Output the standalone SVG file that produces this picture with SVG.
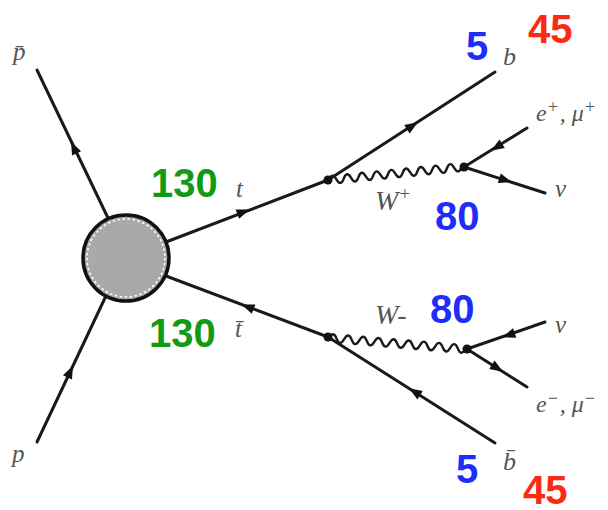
<svg xmlns="http://www.w3.org/2000/svg" xmlns:xlink="http://www.w3.org/1999/xlink" width="608" height="510" viewBox="0 0 608 510">
<style>
.ln{stroke:#1a1a1a;stroke-width:3;fill:none;stroke-linecap:round}
.wv{stroke:#1a1a1a;stroke-width:2.4;fill:none}
.dot{fill:#111}
.ah{fill:#111}
.lbl{font-family:"Liberation Serif","DejaVu Serif",serif;font-style:italic;fill:#555}
.num{font-family:"Liberation Sans",Arial,sans-serif;font-weight:bold;font-size:40px}
.g{fill:#139a13}
.b{fill:#1e2dfa}
.r{fill:#fa2a14}
</style>
<defs>
<path id="arr" d="M7,0 L-6,-5 L-6,5 Z"/>
</defs>
<rect width="608" height="510" fill="#fff"/>

<g id="connectors">
<line class="ln" x1="108" y1="218" x2="37" y2="70"/>
<line class="ln" x1="105" y1="298" x2="37" y2="442"/>
<line class="ln" x1="166" y1="242" x2="328" y2="180"/>
<line class="ln" x1="166" y1="276" x2="328" y2="337"/>
<line class="ln" x1="328" y1="180" x2="495" y2="72"/>
<line class="ln" x1="464" y1="167" x2="527" y2="128"/>
<line class="ln" x1="464" y1="167" x2="545" y2="193"/>
<line class="ln" x1="328" y1="337" x2="495" y2="443"/>
<line class="ln" x1="467" y1="349" x2="545" y2="322"/>
<line class="ln" x1="467" y1="349" x2="527" y2="387"/>
<path class="wv" transform="translate(329,180) rotate(-5.58)" d="M0,0 q3.7,-8 7.4,0 q3.7,8 7.4,0 q3.7,-8 7.4,0 q3.7,8 7.4,0 q3.7,-8 7.4,0 q3.7,8 7.4,0 q3.7,-8 7.4,0 q3.7,8 7.4,0 q3.7,-8 7.4,0 q3.7,8 7.4,0 q3.7,-8 7.4,0 q3.7,8 7.4,0 q3.7,-8 7.4,0 q3.7,8 7.4,0 q3.7,-8 7.4,0 q3.7,8 7.4,0 q3.7,-8 7.4,0 q3.7,8 7.4,0"/>
<path class="wv" transform="translate(329,338) rotate(4.62)" d="M0,0 q3.8,-8 7.6,0 q3.8,8 7.6,0 q3.8,-8 7.6,0 q3.8,8 7.6,0 q3.8,-8 7.6,0 q3.8,8 7.6,0 q3.8,-8 7.6,0 q3.8,8 7.6,0 q3.8,-8 7.6,0 q3.8,8 7.6,0 q3.8,-8 7.6,0 q3.8,8 7.6,0 q3.8,-8 7.6,0 q3.8,8 7.6,0 q3.8,-8 7.6,0 q3.8,8 7.6,0 q3.8,-8 7.6,0 q3.8,8 7.6,0"/>
<use class="ah" xlink:href="#arr" href="#arr" transform="translate(74,148) rotate(-115.6)"/>
<use class="ah" xlink:href="#arr" href="#arr" transform="translate(70,372) rotate(-64.7)"/>
<use class="ah" xlink:href="#arr" href="#arr" transform="translate(243,212) rotate(-20.9)"/>
<use class="ah" xlink:href="#arr" href="#arr" transform="translate(248,307) rotate(200.6)"/>
<use class="ah" xlink:href="#arr" href="#arr" transform="translate(412,126) rotate(-32.9)"/>
<use class="ah" xlink:href="#arr" href="#arr" transform="translate(497,147) rotate(148.2)"/>
<use class="ah" xlink:href="#arr" href="#arr" transform="translate(505,180) rotate(17.8)"/>
<use class="ah" xlink:href="#arr" href="#arr" transform="translate(415,392) rotate(212.4)"/>
<use class="ah" xlink:href="#arr" href="#arr" transform="translate(509,335) rotate(160.9)"/>
<use class="ah" xlink:href="#arr" href="#arr" transform="translate(497,368) rotate(32.3)"/>
<circle class="dot" cx="328" cy="180" r="4.5"/>
<circle class="dot" cx="464" cy="167" r="4.5"/>
<circle class="dot" cx="328" cy="337" r="4.5"/>
<circle class="dot" cx="467" cy="349" r="4.5"/>
</g>

<g id="blob">
<circle cx="126" cy="258" r="43" fill="#a9a9a9" stroke="#111" stroke-width="3.5"/>
<circle cx="126" cy="258" r="39" fill="none" stroke="#fff" stroke-width="1.6" stroke-dasharray="2.5,2.5"/>
</g>

<g id="pbar"><text class="lbl" x="13" y="60" font-size="25">p̄</text></g>
<g id="p"><text class="lbl" x="12" y="462" font-size="25">p</text></g>
<g id="t"><text class="lbl" x="236" y="197" font-size="25">t</text><text class="num g" x="151" y="197">130</text></g>
<g id="tbar"><text class="lbl" x="235" y="337" font-size="25">t̄</text><text class="num g" x="149" y="347">130</text></g>
<g id="b"><text class="lbl" x="503" y="65" font-size="26">b</text><text class="num b" x="466" y="60">5</text><text class="num r" x="528" y="43">45</text></g>
<g id="Wplus"><text class="lbl" x="375" y="210" font-size="28">W<tspan font-size="19" dy="-10">+</tspan></text><text class="num b" x="435" y="230">80</text></g>
<g id="lplus"><text class="lbl" x="536" y="121" font-size="24">e<tspan font-size="18" dy="-8">+</tspan><tspan dy="8" dx="1">, μ</tspan><tspan font-size="18" dy="-8">+</tspan></text></g>
<g id="nu1"><text class="lbl" x="555" y="197" font-size="25">ν</text></g>
<g id="Wminus"><text class="lbl" x="375" y="324" font-size="28">W-</text><text class="num b" x="430" y="323">80</text></g>
<g id="nu2"><text class="lbl" x="555" y="333" font-size="25">ν</text></g>
<g id="lminus"><text class="lbl" x="536" y="412" font-size="24">e<tspan font-size="18" dy="-8">−</tspan><tspan dy="8" dx="1">, μ</tspan><tspan font-size="18" dy="-8">−</tspan></text></g>
<g id="bbar"><text class="lbl" x="503" y="470" font-size="26">b̄</text><text class="num b" x="456" y="483">5</text><text class="num r" x="523" y="504">45</text></g>
</svg>
